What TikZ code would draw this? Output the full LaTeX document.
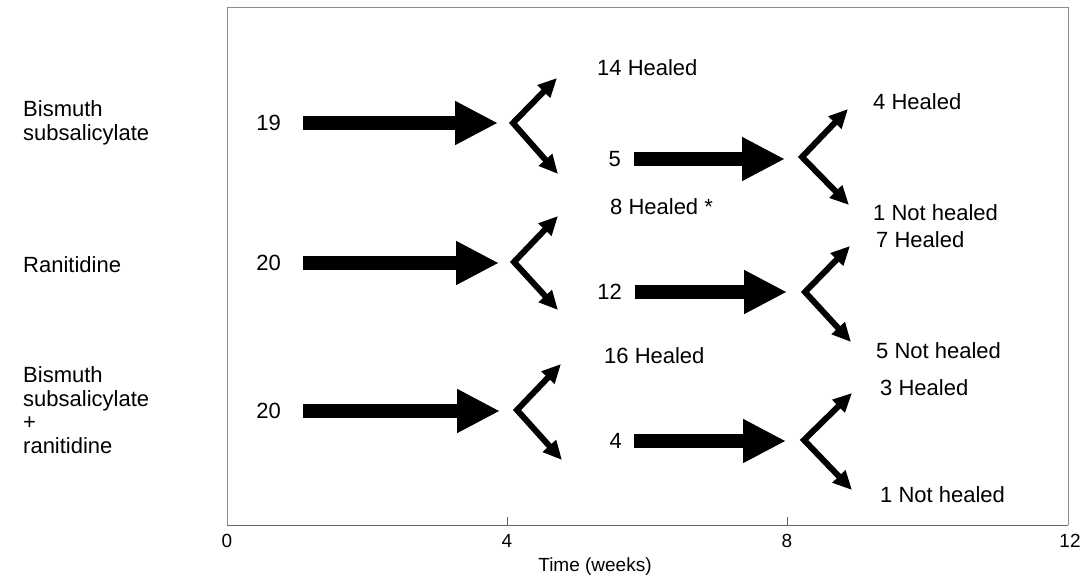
\documentclass[tikz,border=0pt]{standalone}
\usepackage{fontspec}
\setmainfont{Liberation Sans}
\usetikzlibrary{arrows.meta}
\begin{document}
\begin{tikzpicture}[x=1pt,y=-1pt,
  txt/.style={inner sep=0pt,font=\fontsize{22}{23.6}\selectfont,align=left},
  lbl/.style={txt,anchor=west},
  cnt/.style={txt,anchor=east},
  ticklbl/.style={inner sep=0pt,font=\fontsize{19}{20}\selectfont},
  frame/.style={draw=black!45,line width=0.6pt},
  bigarrow/.style={line width=14pt,-{Triangle[length=43pt,width=41pt]}},
  fork/.style={line width=6pt,line join=miter,
    {Triangle[length=19pt,width=17pt]}-{Triangle[length=19pt,width=17pt]}}]
\useasboundingbox (0,0) rectangle (1084,578);

% plot frame and time axis
\draw[frame] (227,525) -- (227,7) -- (1068,7) -- (1068,525);
\draw[draw=black!60,line width=0.7pt] (227,525) -- (1068,525);
\foreach \w/\x in {4/507,8/787}
  \draw[black!60,line width=0.7pt] (\x,525) -- (\x,517);
\foreach \w/\x in {0/227,4/507,8/787,12/1070}
  \node[ticklbl] (t\w) at (\x,541) {\w};
\node[ticklbl] (taxis) at (595,567) {Time (weeks)};

% treatment groups
\node[lbl] (g1) at (23,123) {Bismuth\\subsalicylate};
\node[lbl] (g2) at (23,265) {Ranitidine};
\node[lbl] (g3) at (23,410) {Bismuth\\subsalicylate\\+\\ranitidine};

% ---- bismuth subsalicylate ----
\node[cnt] (a0) at (281,123) {19};
\coordinate (av1) at (513,123);
\coordinate (au1) at (557,78);
\coordinate (ad1) at (558,174);
\draw[bigarrow] ([xshift=22pt]a0.east) -- ([xshift=-15pt]av1);
\draw[fork] (au1) -- (av1) -- (ad1);
\node[lbl] (ah1) at (597,68) {14 Healed};
\node[cnt] (a1) at (621,159) {5};
\coordinate (av2) at (802,157);
\coordinate (au2) at (848,109);
\coordinate (ad2) at (849,205);
\draw[bigarrow] ([xshift=13pt]a1.east) -- ([xshift=-17pt]av2|-a1.east);
\draw[fork] (au2) -- (av2) -- (ad2);
\node[lbl] (ah2) at (873,102) {4 Healed};
\node[lbl] (an2) at (873,213) {1 Not healed};

% ---- ranitidine ----
\node[cnt] (b0) at (281,263) {20};
\coordinate (bv1) at (514,262);
\coordinate (bu1) at (558,216);
\coordinate (bd1) at (558,310);
\draw[bigarrow] ([xshift=22pt]b0.east) -- ([xshift=-15pt]bv1|-b0.east);
\draw[fork] (bu1) -- (bv1) -- (bd1);
\node[lbl] (bh1) at (610,207) {8 Healed *};
\node[cnt] (b1) at (622,292) {12};
\coordinate (bv2) at (805,292);
\coordinate (bu2) at (850,246);
\coordinate (bd2) at (851,342);
\draw[bigarrow] ([xshift=13pt]b1.east) -- ([xshift=-18pt]bv2|-b1.east);
\draw[fork] (bu2) -- (bv2) -- (bd2);
\node[lbl] (bh2) at (876,240) {7 Healed};
\node[lbl] (bn2) at (876,351) {5 Not healed};

% ---- bismuth subsalicylate + ranitidine ----
\node[cnt] (c0) at (281,411) {20};
\coordinate (cv1) at (517,410);
\coordinate (cu1) at (561,364);
\coordinate (cd1) at (562,460);
\draw[bigarrow] ([xshift=22pt]c0.east) -- ([xshift=-17pt]cv1|-c0.east);
\draw[fork] (cu1) -- (cv1) -- (cd1);
\node[lbl] (ch1) at (604,356) {16 Healed};
\node[cnt] (c1) at (622,441) {4};
\coordinate (cv2) at (804,440);
\coordinate (cu2) at (852,393);
\coordinate (cd2) at (852,490);
\draw[bigarrow] ([xshift=12pt]c1.east) -- ([xshift=-18pt]cv2|-c1.east);
\draw[fork] (cu2) -- (cv2) -- (cd2);
\node[lbl] (ch2) at (880,388) {3 Healed};
\node[lbl] (cn2) at (880,495) {1 Not healed};
\end{tikzpicture}
\end{document}
